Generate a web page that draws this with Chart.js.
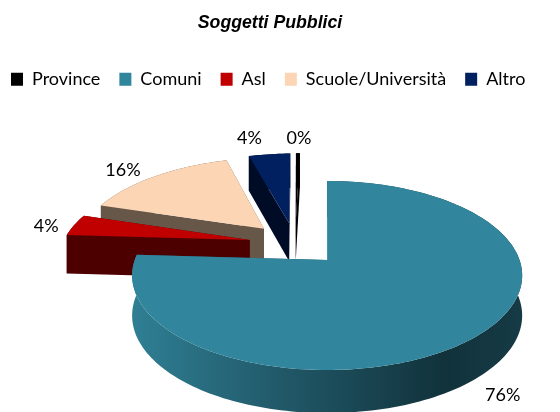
<!DOCTYPE html>
<html><head><meta charset="utf-8">
<style>html,body{margin:0;padding:0;background:#fff}#w{width:560px;height:412px}</style>
<script src="https://cdn.jsdelivr.net/npm/chart.js@4"></script>
</head><body><div id="w"><canvas id="c" width="560" height="412"></canvas></div>
<script>
const categories = ['Province','Comuni','Asl','Scuole/Università','Altro'];
const values = [0.4,75.9,3.9,15.55,4.25];
const topColors = ['#000000','#31859C','#C00000','#FCD5B5','#002060'];
const wallColors = ['#000000','#1F5766','#4D0000','#675749','#000C26'];
const explode = [25,25,25,25,25];
const labelNudge = [[1,-15],[25.5,59],[-28,1.5],[-32,-6],[-20,-16]];
const titleText = 'Soggetti Pubblici';

// perspective view of the pie plane
const view = {cx:327, cy:260, A:192.4, B:92, k:0.164, cu:-0.171, cv:-0.182};
function project(u,v,drop){
  const U=u+view.cu, V=v+view.cv, w=1-view.k*V;
  const d = drop ? 36+3.5*(V+1) : 0;
  return [view.cx+view.A*U/w, view.cy+view.B*V/w+d];
}
function sliceGeom(el,i){
  const p=el.getProps(['startAngle','endAngle']);
  const mid=(p.startAngle+p.endAngle)/2, e=explode[i]/100;
  return {a0:p.startAngle,a1:p.endAngle,mid,ox:Math.cos(mid)*e,oy:Math.sin(mid)*e};
}
function poly(ctx,pts,fill){
  ctx.beginPath();
  pts.forEach((q,i)=>i?ctx.lineTo(q[0],q[1]):ctx.moveTo(q[0],q[1]));
  ctx.closePath();ctx.fillStyle=fill;ctx.fill();
}
const pie3d={id:'pie3d',
  beforeDatasetsDraw(chart){
    const ctx=chart.ctx, meta=chart.getDatasetMeta(0);
    const order=meta.data.map((el,i)=>({el,i,g:sliceGeom(el,i)}))
      .sort((a,b)=>a.g.oy-b.g.oy);
    const grad=ctx.createLinearGradient(135,0,522,0);
    grad.addColorStop(0,'#2F7E93');grad.addColorStop(0.45,'#1E5261');
    grad.addColorStop(0.8,'#11323B');grad.addColorStop(1,'#163B46');
    for(const {i,g} of order){
      const n=Math.max(8,Math.ceil((g.a1-g.a0)*40));
      const arc=[];
      for(let s=0;s<=n;s++){const a=g.a0+(g.a1-g.a0)*s/n;arc.push([g.ox+Math.cos(a),g.oy+Math.sin(a)]);}
      const ap=[g.ox,g.oy];
      const radial=e=>[project(ap[0],ap[1]),project(e[0],e[1]),project(e[0],e[1],1),project(ap[0],ap[1],1)];
      const ends=[arc[0],arc[n]].sort((a,b)=>a[1]-b[1]);
      poly(ctx,radial(ends[0]),wallColors[i]);
      const outer=arc.map(q=>project(q[0],q[1])).concat(arc.slice().reverse().map(q=>project(q[0],q[1],1)));
      poly(ctx,outer,i===1?grad:wallColors[i]);
      poly(ctx,radial(ends[1]),wallColors[i]);
      poly(ctx,[project(ap[0],ap[1])].concat(arc.map(q=>project(q[0],q[1]))),topColors[i]);
    }
    return false;
  },
  afterDraw(chart){
    const ctx=chart.ctx, meta=chart.getDatasetMeta(0);
    ctx.save();
    ctx.font='18px Lato';ctx.fillStyle='#000';ctx.textAlign='center';ctx.textBaseline='middle';
    const total=values.reduce((a,b)=>a+b,0);
    meta.data.forEach((el,i)=>{
      const g=sliceGeom(el,i);
      const q=project(g.ox+Math.cos(g.mid),g.oy+Math.sin(g.mid));
      ctx.fillText(Math.round(values[i]/total*100)+'%',q[0]+labelNudge[i][0],q[1]+labelNudge[i][1]);
    });
    ctx.restore();
  }
};
new Chart(document.getElementById('c'),{
  type:'pie',
  data:{labels:categories,datasets:[{data:values,backgroundColor:topColors,borderWidth:0,offset:explode}]},
  options:{responsive:false,animation:false,rotation:-1.44,
    layout:{padding:{left:-8,right:12,top:0,bottom:0}},
    plugins:{
      title:{display:true,text:titleText,color:'#000',
        font:{family:'"Liberation Sans"',size:17.7,weight:'bold',style:'italic'},padding:{top:12,bottom:18}},
      legend:{position:'top',align:'start',labels:{color:'#000',font:{family:'Lato',size:18},boxWidth:12,boxHeight:13,padding:19}},
      tooltip:{enabled:false}
    }},
  plugins:[pie3d]
});
</script></body></html>
